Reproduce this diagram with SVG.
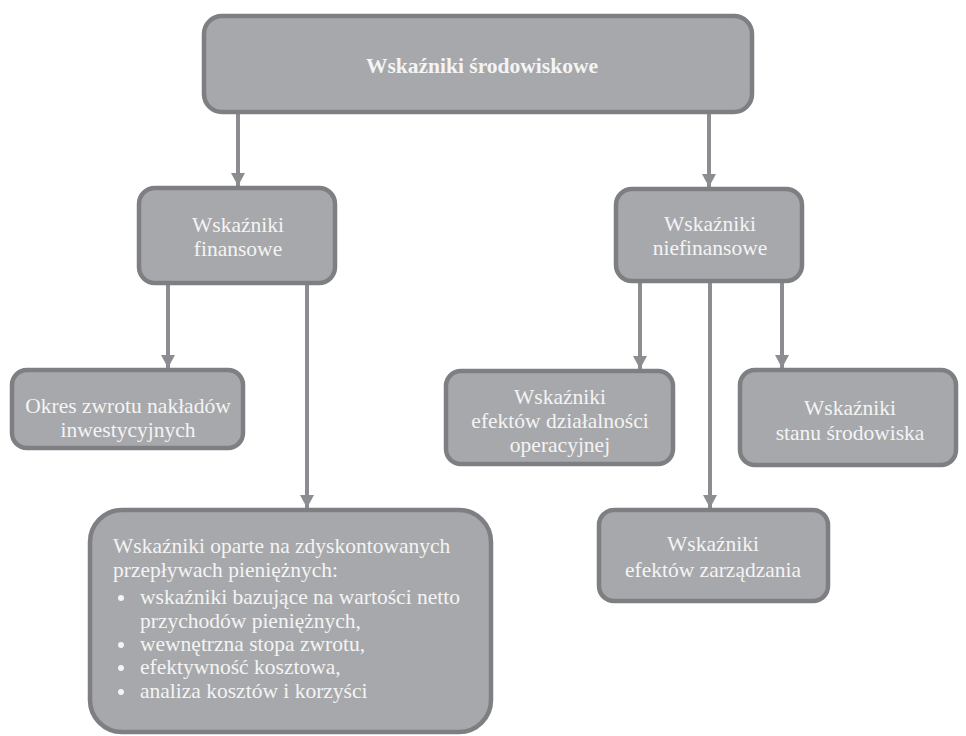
<svg xmlns="http://www.w3.org/2000/svg" width="966" height="736" viewBox="0 0 966 736">
<style>
.box{fill:#a7a8ab;stroke:#7e7f82;stroke-width:4.5}
.t{font-family:'Liberation Serif','DejaVu Serif',serif;font-size:21.5px;fill:#f4f4f4}
.c{text-anchor:middle}
.b{font-weight:bold}
.ln{stroke:#8c8d90;stroke-width:4;fill:none}
</style>
<defs>
<marker id="ah" markerUnits="userSpaceOnUse" viewBox="0 0 13 14" refX="13" refY="7" markerWidth="13" markerHeight="14" orient="auto">
<path d="M0,0 L13,7 L0,14 z" fill="#8c8d90"/>
</marker>
</defs>
<g id="connectors">
<line class="ln" x1="238" y1="114" x2="238" y2="186" marker-end="url(#ah)"/>
<line class="ln" x1="709" y1="114" x2="709" y2="187" marker-end="url(#ah)"/>
<line class="ln" x1="168" y1="285" x2="168" y2="368" marker-end="url(#ah)"/>
<line class="ln" x1="307" y1="285" x2="307" y2="508" marker-end="url(#ah)"/>
<line class="ln" x1="640" y1="283" x2="640" y2="369" marker-end="url(#ah)"/>
<line class="ln" x1="710" y1="283" x2="710" y2="508" marker-end="url(#ah)"/>
<line class="ln" x1="782" y1="283" x2="782" y2="368" marker-end="url(#ah)"/>
</g>
<g id="root">
<rect class="box" x="204" y="16" width="548" height="96" rx="18"/>
<text class="t c b" x="482" y="73">Wskaźniki środowiskowe</text>
</g>
<g id="finansowe">
<rect class="box" x="139" y="188" width="196" height="95" rx="16"/>
<text class="t c" x="238" y="232">Wskaźniki</text>
<text class="t c" x="238" y="256">finansowe</text>
</g>
<g id="niefinansowe">
<rect class="box" x="616" y="189" width="186" height="92" rx="16"/>
<text class="t c" x="710" y="231">Wskaźniki</text>
<text class="t c" x="710" y="255">niefinansowe</text>
</g>
<g id="okres">
<rect class="box" x="12" y="370" width="231" height="78" rx="15"/>
<text class="t c" x="128" y="413">Okres zwrotu nakładów</text>
<text class="t c" x="128" y="437">inwestycyjnych</text>
</g>
<g id="dzialalnosc">
<rect class="box" x="446" y="371" width="227" height="93" rx="15"/>
<text class="t c" x="560" y="404">Wskaźniki</text>
<text class="t c" x="560" y="428">efektów działalności</text>
<text class="t c" x="560" y="452">operacyjnej</text>
</g>
<g id="stan">
<rect class="box" x="740" y="370" width="216" height="95" rx="15"/>
<text class="t c" x="850" y="415">Wskaźniki</text>
<text class="t c" x="850" y="440">stanu środowiska</text>
</g>
<g id="zarzadzanie">
<rect class="box" x="599" y="510" width="229" height="91" rx="15"/>
<text class="t c" x="713" y="551">Wskaźniki</text>
<text class="t c" x="713" y="577">efektów zarządzania</text>
</g>
<g id="zdyskontowane">
<rect class="box" x="90" y="510" width="401" height="222" rx="32"/>
<text class="t" x="113" y="553">Wskaźniki oparte na zdyskontowanych</text>
<text class="t" x="113" y="577">przepływach pieniężnych:</text>
<circle cx="121" cy="598" r="3" fill="#f4f4f4"/>
<text class="t" x="140" y="604">wskaźniki bazujące na wartości netto</text>
<text class="t" x="140" y="628">przychodów pieniężnych,</text>
<circle cx="121" cy="645" r="3" fill="#f4f4f4"/>
<text class="t" x="140" y="651">wewnętrzna stopa zwrotu,</text>
<circle cx="121" cy="668" r="3" fill="#f4f4f4"/>
<text class="t" x="140" y="674">efektywność kosztowa,</text>
<circle cx="121" cy="692" r="3" fill="#f4f4f4"/>
<text class="t" x="140" y="698">analiza kosztów i korzyści</text>
</g>
</svg>
